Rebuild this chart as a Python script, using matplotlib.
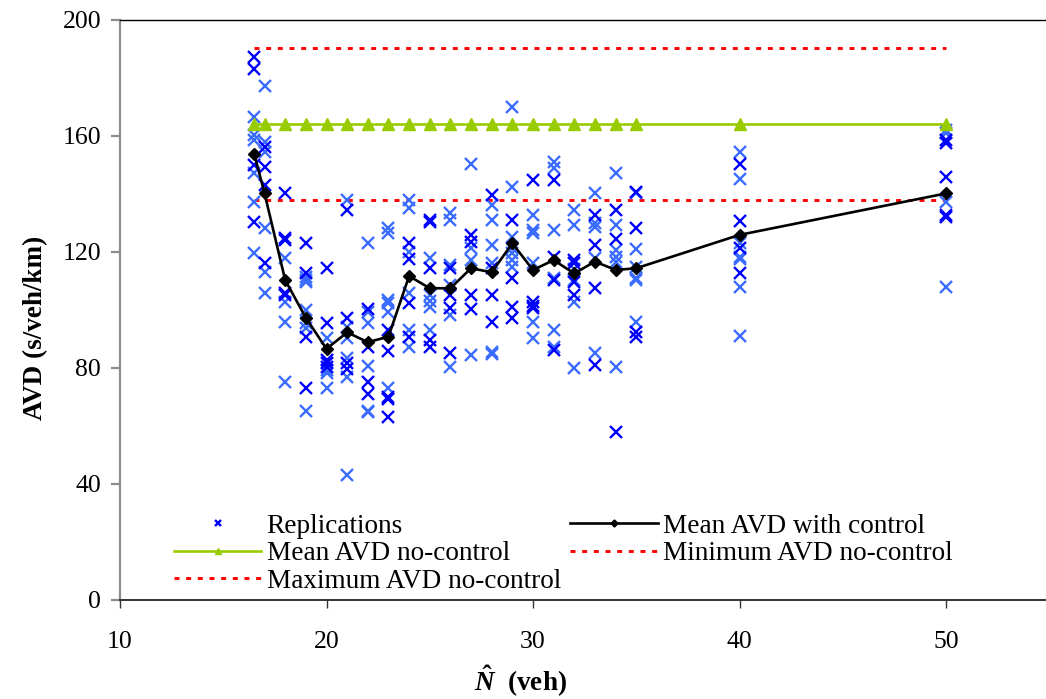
import matplotlib
matplotlib.use("Agg")
import matplotlib.pyplot as plt

plt.rcParams['font.family'] = ['Liberation Serif', 'DejaVu Serif']
plt.rcParams['mathtext.fontset'] = 'custom'
plt.rcParams['mathtext.it'] = 'Liberation Serif:italic:bold'
plt.rcParams['mathtext.rm'] = 'Liberation Serif:bold'

# ---------------- data ----------------
n_values = [16.5, 17, 18, 19, 20, 21, 22, 23, 24, 25, 26, 27, 28, 29, 30, 31, 32, 33, 34, 35, 40, 50]

mean_with_control = [153.8, 140.2, 110.3, 97.3, 86.6, 92.3, 88.9, 90.8, 111.7, 107.5, 107.5,
                     114.4, 113.0, 123.0, 113.8, 117.2, 112.6, 116.7, 113.8, 114.4, 125.9, 140.2]

mean_no_control = 164.3
min_no_control = 137.9
max_no_control = 190.3

# replications (two shades of blue in the original)
reps_dark = {
    16.5: [187.3, 183.0, 150.0, 130.2],
    17: [156.3, 149.4, 143.1, 116.1],
    18: [140.2, 124.7, 124.0, 105.8, 105.2],
    19: [123.2, 112.6, 90.8, 73.0],
    20: [114.4, 95.4, 82.8, 81.6, 80.2],
    21: [134.5, 97.3, 81.6, 79.5],
    22: [100.2, 87.3, 75.3, 70.9],
    23: [93.1, 85.9, 69.9, 69.4, 63.2],
    24: [123.0, 117.6, 102.3, 90.8],
    25: [131.0, 130.5, 114.4, 89.7, 87.3],
    26: [114.4, 105.2, 100.6, 85.3],
    27: [125.9, 123.6, 105.2, 100.2],
    28: [139.7, 114.4, 105.2, 96.0],
    29: [131.0, 110.9, 101.1, 97.1],
    30: [144.8, 102.9, 101.5, 100.6],
    31: [144.8, 118.4, 110.3, 86.2],
    32: [117.2, 116.1, 109.8, 105.2],
    33: [132.8, 122.4, 107.5, 81.0],
    34: [134.5, 124.4, 58.0],
    35: [140.8, 128.2, 92.5, 90.8],
    40: [150.3, 130.8, 121.3, 112.6],
    50: [158.6, 157.5, 146.0, 132.8, 132.2],
}
reps_light = {
    16.5: [166.7, 160.3, 158.6, 147.1, 137.1, 119.5],
    17: [177.3, 158.0, 154.6, 128.2, 113.2, 105.8],
    18: [117.8, 102.9, 96.0, 75.3],
    19: [111.5, 110.3, 109.8, 100.0, 95.4, 93.8, 65.2],
    20: [90.2, 79.3, 78.2, 73.0],
    21: [137.9, 94.3, 90.2, 83.3, 77.0, 43.1],
    22: [123.0, 99.4, 95.4, 80.8, 65.3, 65.0],
    23: [128.2, 126.4, 103.4, 102.3, 99.4, 73.0],
    24: [137.9, 135.1, 120.1, 106.0, 93.1, 87.3],
    25: [117.8, 105.2, 103.0, 101.1, 93.1],
    26: [133.3, 131.0, 115.5, 108.6, 98.3, 80.2],
    27: [150.3, 121.3, 117.2, 84.5],
    28: [136.2, 131.0, 122.4, 116.1, 85.6, 84.8],
    29: [170.1, 142.5, 125.3, 121.3, 119.5, 117.2, 114.9],
    30: [132.8, 127.6, 126.4, 116.1, 96.0, 90.2],
    31: [151.1, 148.9, 127.6, 110.9, 93.1, 87.3],
    32: [134.5, 129.3, 114.0, 110.3, 102.9, 79.9],
    33: [140.2, 129.9, 128.7, 117.8, 85.3],
    34: [147.4, 129.3, 120.7, 118.4, 116.7, 80.2],
    35: [140.2, 121.0, 114.9, 110.9, 110.3, 96.0],
    40: [154.6, 145.2, 123.0, 118.4, 117.5, 108.0, 91.0],
    50: [162.0, 161.0, 137.4, 108.0],
}

x_ticks = [10, 20, 30, 40, 50]
y_ticks = [0, 40, 80, 120, 160, 200]

# ---------------- figure ----------------
W, H = 1046, 699
fig = plt.figure(figsize=(W / 100, H / 100), dpi=100)
ax = fig.add_axes([120 / W, (H - 600) / H, (W - 120) / W, 580 / H])

FS = 18.5
LFS = 19.6
dark_blue = '#0000FF'
light_blue = '#3a6cff'
green = '#99CC00'

# flattened replication points
dx = [n for n, vals in reps_dark.items() for _ in vals]
dy = [v for vals in reps_dark.values() for v in vals]
lx = [n for n, vals in reps_light.items() for _ in vals]
ly = [v for vals in reps_light.values() for v in vals]

dot_style = (0, (1.7, 2.3))
x0, x1 = n_values[0], n_values[-1]

h_max, = ax.plot([x0, x1], [max_no_control] * 2, color='#FF0000', lw=2.1,
                 linestyle=dot_style, dash_capstyle='butt', zorder=2)
h_min, = ax.plot([x0, x1], [min_no_control] * 2, color='#FF0000', lw=2.1,
                 linestyle=dot_style, dash_capstyle='butt', zorder=2)

ax.plot(lx, ly, linestyle='none', marker='x', color=light_blue, ms=8.4, mew=1.7, zorder=3)
h_rep, = ax.plot(dx, dy, linestyle='none', marker='x', color=dark_blue, ms=8.4, mew=1.7, zorder=3)

h_nc, = ax.plot(n_values, [mean_no_control] * len(n_values), color=green, lw=1.9,
                marker='^', ms=8, mec=green, mfc=green, zorder=4)
h_wc, = ax.plot(n_values, mean_with_control, color='black', lw=1.9,
                marker='D', ms=6.5, mfc='black', mec='black', zorder=5)

ax.set_xlim(10, 10 + 926 / 20.65)
ax.set_ylim(0, 200)
ax.set_xticks(x_ticks)
ax.set_yticks(y_ticks)

ax.spines['right'].set_visible(False)
ax.spines['top'].set_color('black')
ax.spines['top'].set_linewidth(1.0)
ax.spines['left'].set_color('#8c8c8c')
ax.spines['left'].set_linewidth(1.6)
ax.spines['bottom'].set_color('#333333')
ax.spines['bottom'].set_linewidth(1.4)

ax.tick_params(axis='y', direction='out', length=6.5, width=1.6, color='#8c8c8c',
               labelsize=FS, pad=7, right=False)
ax.tick_params(axis='x', direction='out', length=6, width=1.0, color='#333333',
               labelsize=FS, pad=16, top=False)

ax.set_ylabel('AVD (s/veh/km)', fontsize=19.5, fontweight='bold')
ax.yaxis.set_label_coords(-0.078, 0.469)
ax.set_xlabel(r'$\hat{N}$  (veh)', fontsize=FS + 1, fontweight='bold')
ax.xaxis.set_label_coords(0.432, -0.110)

handles = [h_rep, h_nc, h_max, h_wc, h_min]
labels = ['Replications', 'Mean AVD no-control', 'Maximum AVD no-control',
          'Mean AVD with control', 'Minimum AVD no-control']
leg = ax.legend(handles, labels, ncol=2, loc='upper left',
                bbox_to_anchor=(174 / W, 1 - 513.5 / H), bbox_transform=fig.transFigure,
                frameon=False, fontsize=LFS, handlelength=3.2, handletextpad=0.2,
                columnspacing=0.35, labelspacing=0.09, borderpad=0, borderaxespad=0,
                markerscale=0.55)

fig.savefig('out.png', dpi=100)
